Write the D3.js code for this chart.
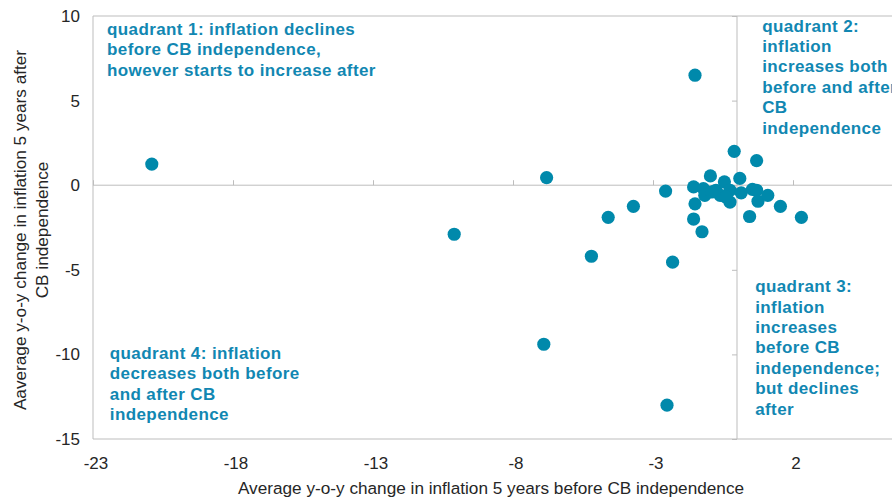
<!DOCTYPE html>
<html>
<head>
<meta charset="utf-8">
<script src="https://cdn.jsdelivr.net/npm/d3@7"></script>
<style>
  body { margin: 0; background: #fff; }
  svg text { font-family: "Liberation Sans", Arial, sans-serif; }
</style>
</head>
<body>
<div id="chartDiv"></div>
<script>
// change in inflation 5 yrs before (x) vs 5 yrs after (y) CB independence
var beforeChange = [-20.9, -10.1, -6.8, -6.9, -5.2, -4.6, -3.7, -2.5, -2.55, -2.3,
                    -1.5, -1.55, -1.5, -1.55, -1.25, -1.2, -1.15, -0.95, -0.75, -0.6,
                    -0.45, -0.25, -0.25, -0.1, 0.1, 0.15, 0.45, 0.55, 0.7, 0.7,
                    0.75, 1.1, 1.55, 2.3, -0.9, -0.4];
var afterChange = [1.25, -2.9, 0.45, -9.4, -4.2, -1.9, -1.25, -13.0, -0.35, -4.55,
                   6.5, -0.1, -1.1, -2.0, -2.75, -0.2, -0.6, 0.55, -0.3, -0.6,
                   0.2, -0.3, -1.0, 2.0, 0.4, -0.45, -1.85, -0.25, -0.3, 1.45,
                   -0.95, -0.6, -1.25, -1.9, -0.4, -0.7];
var xTicks = [-23, -18, -13, -8, -3, 2];
var yTicks = [10, 5, 0, -5, -10, -15];
var quadrantNotes = [
    {x: -22.5, y: 10, lines: ['quadrant 1: inflation declines', 'before CB independence,', 'however starts to increase after']},
    {x: 0.9, y: 10.2, lines: ['quadrant 2:', 'inflation', 'increases both', 'before and after', 'CB', 'independence']},
    {x: 0.65, y: -5.2, lines: ['quadrant 3:', 'inflation', 'increases', 'before CB', 'independence;', 'but declines', 'after']},
    {x: -22.4, y: -9.15, lines: ['quadrant 4: inflation', 'decreases both before', 'and after CB', 'independence']}
];
var xTitle = 'Average y-o-y change in inflation 5 years before CB independence';
var yTitle = ['Aaverage y-o-y change in inflation 5 years after', 'CB independence'];

var width = 892;
var height = 500;
var dotColor = '#0089ab';
var noteColor = '#1187b2';
var lineColor = '#bdbdbd';
var labelColor = '#262626';

var x = d3.scaleLinear().domain([-23, 7]).range([93, 933]);
var y = d3.scaleLinear().domain([-15, 10]).range([439, 16]);

var svg = d3.select('#chartDiv')
    .append('svg')
    .attr('width', width)
    .attr('height', height);

// frame: top, left, bottom
svg.append('path')
    .attr('d', 'M' + width + ',' + y(10) + 'H' + x(-23) + 'V' + y(-15) + 'H' + width)
    .attr('fill', 'none')
    .attr('stroke', lineColor)
    .attr('stroke-width', 1);

// x axis drawn through y = 0, ticks pointing up, no labels
var xAxis = svg.append('g')
    .attr('transform', 'translate(0,' + y(0) + ')')
    .call(d3.axisTop(x).tickValues(xTicks).tickSize(5).tickFormat(''));
xAxis.select('.domain').attr('d', 'M' + x(-23) + ',0H' + width);

// y axis drawn through x = 0, ticks pointing left
var yAxis = svg.append('g')
    .attr('transform', 'translate(' + x(0) + ',0)')
    .call(d3.axisLeft(y).tickValues(yTicks).tickSize(5).tickFormat(''));
yAxis.select('.domain').attr('d', 'M0,' + y(10) + 'V' + y(-15));

svg.selectAll('.tick line, .domain').attr('stroke', lineColor);

// tick labels sit at the frame edges
svg.append('g').selectAll('text')
    .data(xTicks)
    .enter()
    .append('text')
    .attr('x', function (d) { return x(d) + 3; })
    .attr('y', 469)
    .attr('text-anchor', 'middle')
    .attr('font-size', 17)
    .attr('fill', labelColor)
    .text(function (d) { return d; });

svg.append('g').selectAll('text')
    .data(yTicks)
    .enter()
    .append('text')
    .attr('x', 80)
    .attr('y', function (d) { return y(d) + 6; })
    .attr('text-anchor', 'end')
    .attr('font-size', 17)
    .attr('fill', labelColor)
    .text(function (d) { return d; });

svg.append('text')
    .attr('x', 491)
    .attr('y', 494)
    .attr('text-anchor', 'middle')
    .attr('font-size', 17.2)
    .attr('fill', labelColor)
    .text(xTitle);

svg.append('text')
    .attr('transform', 'translate(26,' + 230 + ') rotate(-90)')
    .attr('text-anchor', 'middle')
    .attr('font-size', 17.2)
    .attr('fill', labelColor)
    .selectAll('tspan')
    .data(yTitle)
    .enter()
    .append('tspan')
    .attr('x', 0)
    .attr('dy', function (d, i) { return i == 0 ? 0 : 22; })
    .text(function (d) { return d; });

// quadrant notes
quadrantNotes.forEach(function (note) {
    svg.append('text')
        .attr('x', x(note.x))
        .attr('y', y(note.y) + 19)
        .attr('font-size', 17)
        .attr('font-weight', 'bold')
        .attr('letter-spacing', 0.4)
        .attr('fill', noteColor)
        .selectAll('tspan')
        .data(note.lines)
        .enter()
        .append('tspan')
        .attr('x', x(note.x))
        .attr('dy', function (d, i) { return i == 0 ? 0 : 20.4; })
        .text(function (d) { return d; });
});

var points = beforeChange.map(function (v, i) {
    return {before: v, after: afterChange[i]};
});

svg.append('g').selectAll('circle')
    .data(points)
    .enter()
    .append('circle')
    .attr('cx', function (d) { return x(d.before); })
    .attr('cy', function (d) { return y(d.after); })
    .attr('r', 6.6)
    .attr('fill', dotColor);
</script>
</body>
</html>
